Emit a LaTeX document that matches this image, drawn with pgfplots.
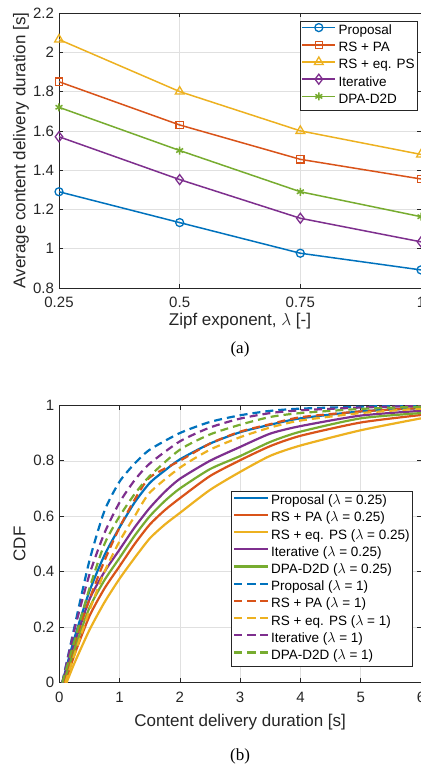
\documentclass[border=0pt]{standalone}
\usepackage{pgfplots}
\pgfplotsset{compat=1.18}
\usepackage{fontspec}
\setmainfont{Liberation Sans}
\newfontfamily\capfont{Liberation Serif}
\definecolor{mblue}{rgb}{0,0.447,0.741}
\definecolor{morange}{rgb}{0.85,0.325,0.098}
\definecolor{myellow}{rgb}{0.929,0.694,0.125}
\definecolor{mpurple}{rgb}{0.494,0.184,0.556}
\definecolor{mgreen}{rgb}{0.466,0.674,0.188}
\definecolor{axgray}{gray}{0.15}
\definecolor{gridgray}{gray}{0.88}
\pgfplotsset{
  mstyle/.style={
    scale only axis,
    tick label style={font=\fontsize{15}{18}\selectfont, text=axgray},
    /pgf/number format/assume math mode=true,
    axis line style={axgray, line width=0.7pt},
    tick style={axgray, line width=0.6pt},
    tick align=inside, major tick length=4.5pt,
    grid=major, grid style={gridgray, line width=0.5pt},
    label style={font=\fontsize{17}{20}\selectfont, text=axgray},
    legend cell align=left,
    legend style={draw=axgray, line width=0.6pt, fill=white,
      font=\fontsize{13.5}{16}\selectfont, text=black, inner sep=1.5pt,
      row sep=0pt, column sep=1pt,
      nodes={inner sep=1.6pt, text height=10.5pt, text depth=3.5pt}},
    legend image code/.code={\draw[mark repeat=2,mark phase=2,##1] plot coordinates {(0pt,3.5pt) (16.5pt,3.5pt) (33pt,3.5pt)};},
    xticklabel style={yshift=-5.5pt},
    yticklabel style={xshift=-1.5pt},
  },
  cdfs/.style={line width=2.2pt, smooth, tension=0.4},
  cdfd/.style={line width=2.2pt, smooth, tension=0.4, dash pattern=on 8pt off 5pt},
}
\begin{document}
\begin{tikzpicture}
% ---------------- (a) ----------------
\begin{axis}[mstyle, at={(59pt,-13pt)}, anchor=north west,
  width=362pt, height=275pt,
  xmin=0.25, xmax=1, ymin=0.8, ymax=2.2,
  xtick={0.25,0.5,0.75,1}, ytick={0.8,1,1.2,1.4,1.6,1.8,2,2.2},
  xlabel={Zipf exponent, $\lambda$ [-]},
  ylabel={Average content delivery duration [s]},
  xlabel style={at={(axis description cs:0.5,-0.12)}, anchor=center},
  ylabel style={at={(axis description cs:-0.105,0.5)}, anchor=center},
  legend style={at={(rel axis cs:0.9917,0.972)}, anchor=north east},
  every axis plot/.append style={line width=1.5pt},
]
\addplot[mblue, mark=o, mark size=4pt, mark options={solid, line width=1.3pt}]
  coordinates {(0.25,1.29) (0.5,1.133) (0.75,0.977) (1,0.892)};
\addlegendentry{Proposal}
\addplot[morange, mark=square, mark size=3.6pt, mark options={solid, line width=1.3pt}]
  coordinates {(0.25,1.85) (0.5,1.63) (0.75,1.455) (1,1.355)};
\addlegendentry{RS + PA}
\addplot[myellow, mark=triangle, mark size=5pt, mark options={solid, line width=1.3pt}]
  coordinates {(0.25,2.065) (0.5,1.80) (0.75,1.60) (1,1.48)};
\addlegendentry{RS + eq. PS}
\addplot[mpurple, mark=diamond, mark size=5pt, mark options={solid, line width=1.3pt}]
  coordinates {(0.25,1.57) (0.5,1.352) (0.75,1.155) (1,1.035)};
\addlegendentry{Iterative}
\addplot[mgreen, mark=asterisk, mark size=4pt, mark options={solid, line width=1.5pt}]
  coordinates {(0.25,1.72) (0.5,1.50) (0.75,1.29) (1,1.163)};
\addlegendentry{DPA-D2D}
\end{axis}
% ---------------- (b) ----------------
\begin{axis}[mstyle, at={(59.3pt,-405.3pt)}, anchor=north west,
  width=361.7pt, height=277.4pt,
  xmin=0, xmax=6, ymin=0, ymax=1,
  xtick={0,1,2,3,4,5,6}, ytick={0,0.2,0.4,0.6,0.8,1},
  xlabel={Content delivery duration [s]},
  ylabel={CDF},
  xlabel style={at={(axis description cs:0.5,-0.1417)}, anchor=center},
  ylabel style={at={(axis description cs:-0.11,0.5)}, anchor=center},
  legend style={at={(rel axis cs:0.978,0.692)}, anchor=north east},
]
\addplot[mblue, cdfs] coordinates {(0.05,0) (0.25,0.16) (0.5,0.33) (0.75,0.46) (1,0.56) (1.25,0.65) (1.5,0.72) (1.75,0.765) (2,0.805) (2.5,0.862) (3,0.903) (3.5,0.93) (4,0.953) (5,0.978) (6,0.99)};
\addlegendentry{Proposal ($\lambda$ = 0.25)}
\addplot[morange, cdfs] coordinates {(0.1,0) (0.25,0.1) (0.5,0.24) (0.75,0.34) (1,0.42) (1.25,0.5) (1.5,0.57) (1.75,0.622) (2,0.665) (2.5,0.745) (3,0.802) (3.5,0.853) (4,0.89) (5,0.938) (6,0.965)};
\addlegendentry{RS + PA ($\lambda$ = 0.25)}
\addplot[myellow, cdfs] coordinates {(0.12,0) (0.25,0.07) (0.5,0.19) (0.75,0.29) (1,0.375) (1.25,0.45) (1.5,0.52) (1.75,0.57) (2,0.612) (2.5,0.695) (3,0.76) (3.5,0.818) (4,0.855) (5,0.91) (6,0.953)};
\addlegendentry{RS + eq. PS ($\lambda$ = 0.25)}
\addplot[mpurple, cdfs] coordinates {(0.05,0) (0.25,0.14) (0.5,0.3) (0.75,0.4) (1,0.48) (1.25,0.56) (1.5,0.63) (1.75,0.688) (2,0.735) (2.5,0.8) (3,0.85) (3.5,0.898) (4,0.925) (5,0.963) (6,0.98)};
\addlegendentry{Iterative ($\lambda$ = 0.25)}
\addplot[mgreen, cdfs] coordinates {(0.07,0) (0.25,0.12) (0.5,0.27) (0.75,0.37) (1,0.45) (1.25,0.53) (1.5,0.6) (1.75,0.655) (2,0.70) (2.5,0.77) (3,0.817) (3.5,0.868) (4,0.905) (5,0.953) (6,0.972)};
\addlegendentry{DPA-D2D ($\lambda$ = 0.25)}
\addplot[mblue, cdfd] coordinates {(0.05,0) (0.25,0.2) (0.5,0.44) (0.75,0.62) (1,0.725) (1.25,0.79) (1.5,0.84) (2,0.90) (2.5,0.94) (3,0.964) (3.5,0.98) (4,0.988) (5,0.995) (6,1.0)};
\addlegendentry{Proposal ($\lambda$ = 1)}
\addplot[morange, cdfd] coordinates {(0.07,0) (0.25,0.14) (0.5,0.3) (0.75,0.44) (1,0.56) (1.25,0.66) (1.5,0.74) (2,0.80) (2.5,0.862) (3,0.905) (3.5,0.932) (4,0.957) (5,0.978) (6,0.99)};
\addlegendentry{RS + PA ($\lambda$ = 1)}
\addplot[myellow, cdfd] coordinates {(0.1,0) (0.25,0.1) (0.5,0.26) (0.75,0.40) (1,0.51) (1.25,0.6) (1.5,0.685) (2,0.775) (2.5,0.84) (3,0.885) (3.5,0.92) (4,0.945) (5,0.972) (6,0.988)};
\addlegendentry{RS + eq. PS ($\lambda$ = 1)}
\addplot[mpurple, cdfd] coordinates {(0.05,0) (0.25,0.19) (0.5,0.39) (0.75,0.54) (1,0.65) (1.25,0.73) (1.5,0.79) (2,0.87) (2.5,0.92) (3,0.952) (3.5,0.972) (4,0.982) (5,0.992) (6,0.998)};
\addlegendentry{Iterative ($\lambda$ = 1)}
\addplot[mgreen, cdfd] coordinates {(0.05,0) (0.25,0.15) (0.5,0.34) (0.75,0.5) (1,0.60) (1.25,0.68) (1.5,0.745) (2,0.84) (2.5,0.895) (3,0.93) (3.5,0.958) (4,0.972) (5,0.987) (6,0.995)};
\addlegendentry{DPA-D2D ($\lambda$ = 1)}
\end{axis}
\node[font=\capfont\fontsize{17}{20}\selectfont, text=black] at (240pt,-349pt) {(a)};
\node[font=\capfont\fontsize{17}{20}\selectfont, text=black] at (240pt,-756pt) {(b)};
\pgfresetboundingbox
\useasboundingbox (0,0) rectangle (420pt,-770pt);
\end{tikzpicture}
\end{document}
